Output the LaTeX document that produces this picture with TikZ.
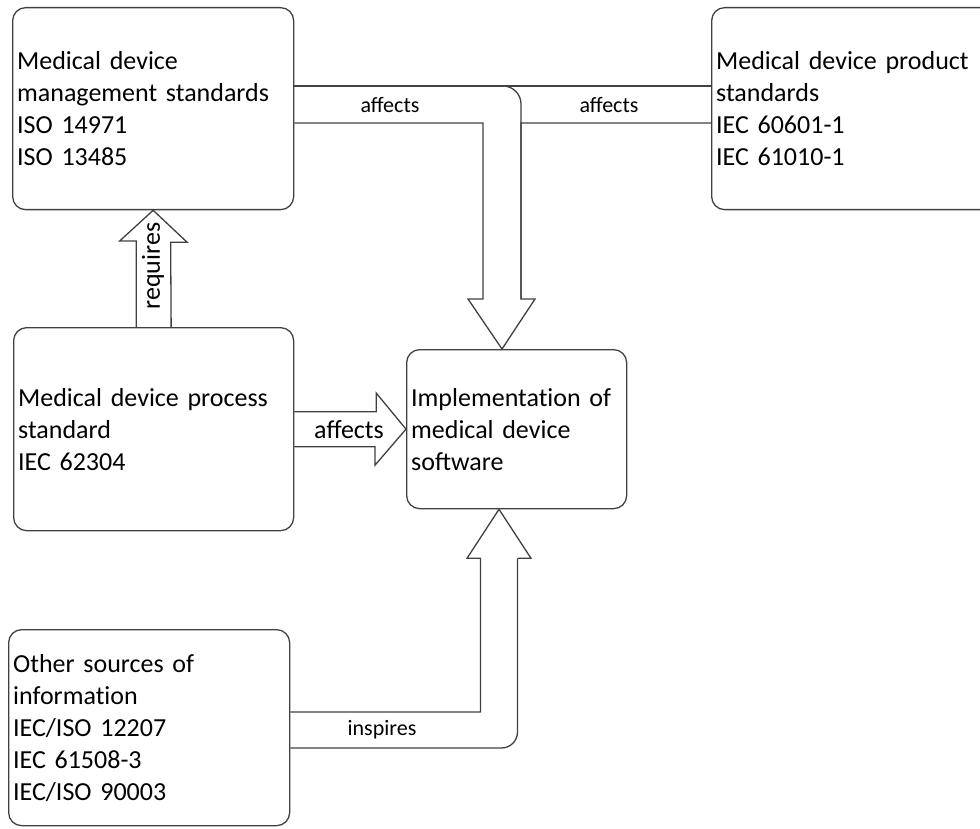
\documentclass[tikz,border=0pt]{standalone}
\usepackage{fontspec}
\setmainfont{Carlito}
\usepackage{tikz}
\usetikzlibrary{positioning,calc}

\begin{document}
\begin{tikzpicture}[x=1pt,y=-1pt,
  stdbox/.style={draw=black!75, line width=1.3pt, rounded corners=13pt, anchor=north west,
    align=left, inner xsep=4.5pt, font=\fontsize{26}{32}\selectfont},
  bigarrow/.style={draw=black!75, line width=1.3pt},
  lbl/.style={font=\fontsize{22}{26}\selectfont},
  biglbl/.style={font=\fontsize{26}{30}\selectfont}]
\useasboundingbox (0,0) rectangle (980,829);
\clip (0,0) rectangle (980,829);

% boxes
\node[stdbox, text width=272pt, minimum height=202pt] (mgmt) at (12,7)
  {Medical device\\management standards\\ISO 14971\\ISO 13485};
\node[stdbox, text width=300pt, minimum height=202pt] (prod) at (711,7)
  {Medical device product\\standards\\IEC 60601-1\\IEC 61010-1};
\node[stdbox, text width=271pt, minimum height=203pt] (proc) at (13,327)
  {Medical device process\\standard\\IEC 62304};
\node[stdbox, text width=211pt, minimum height=159pt] (impl) at (406,349)
  {Implementat\kern0pt ion of\\medical device\\software};
\node[stdbox, text width=272pt, minimum height=196pt] (other) at (8,629)
  {Other sources of\\informat\kern0pt ion\\IEC/ISO 12207\\IEC 61508-3\\IEC/ISO 90003};

\coordinate (jt) at (502,86);
\coordinate (jb) at (502,123);
\coordinate (ib) at (499,712);
\coordinate (ob) at (499,748);

% requires
\draw[bigarrow] ($(proc.north)+(-17.5,0)$) -- ++(0,-86) -- ++(-16.5,0) -- (mgmt.south)
  -- ($(mgmt.south)+(34,32)$) -- ++(-16.5,0) -- ($(proc.north)+(17.5,0)$);
\node[biglbl, rotate=90] (req) at (153,266) {requires};

% affects (process)
\draw[bigarrow] ($(proc.east)+(0,-17.5)$) -- ++(82,0) -- ++(0,-18.5) -- (impl.west)
  -- ($(impl.west)+(-31,36)$) -- ++(0,-18.5) -- ($(proc.east)+(0,17.5)$);
\node[biglbl] (aff3) at (349,430) {affects};

% affects (management + product)
\draw[bigarrow] (mgmt.east |- jt) -- (prod.west |- jt);
\draw[bigarrow] (mgmt.east |- jb) -| ($(impl.north -| jt)+(-19,-50)$) -- ++(-15,0)
  -- (impl.north -| jt) -- ++(33,-50) -- ++(-14,0) |- (prod.west |- jb);
\draw[bigarrow, rounded corners=18pt] ($(jt)+(-19,0)$) -| ($(impl.north -| jt)+(19,-50)$);
\node[lbl] (aff1) at (390,105) {affects};
\node[lbl] (aff2) at (609,105) {affects};

% inspires
\draw[bigarrow] (other.east |- ib) -| ($(impl.south -| ib)+(-18.5,49)$) -- ++(-13.5,0)
  -- (impl.south -| ib) -- ++(32,49) -- ++(-13.5,0);
\draw[bigarrow, rounded corners=16pt] (other.east |- ob) -| ($(impl.south -| ib)+(18.5,49)$);
\node[lbl] (insp) at (382,730) {inspires};
\end{tikzpicture}
\end{document}
